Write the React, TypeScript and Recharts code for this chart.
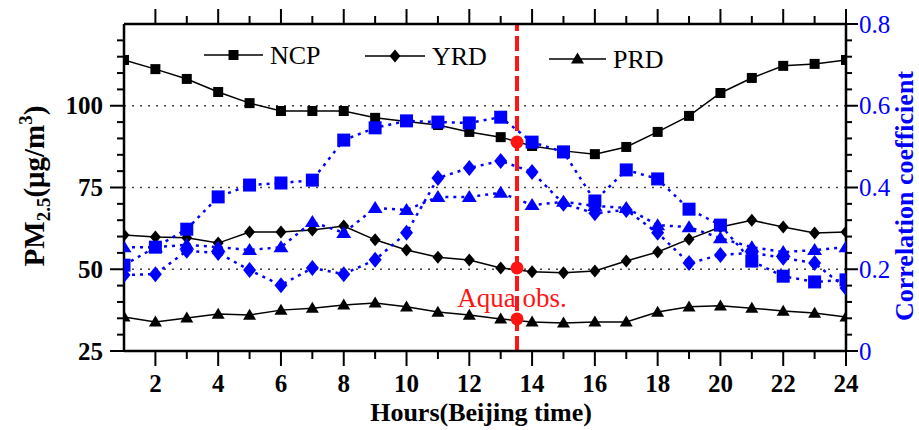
import React from 'react';
import { ComposedChart, Line, XAxis, YAxis, ReferenceLine, ReferenceDot, Legend } from 'recharts';

const hours = [1, 2, 3, 4, 5, 6, 7, 8, 9, 10, 11, 12, 13, 14, 15, 16, 17, 18, 19, 20, 21, 22, 23, 24];
const ncpPM = [114, 111.2, 108.2, 104.2, 100.8, 98.4, 98.4, 98.4, 96.3, 95.2, 94.1, 92, 90.4, 87.7, 86.2, 85.2, 87.4, 92, 96.9, 103.9, 108.5, 112.2, 112.8, 114];
const yrdPM = [60.5, 59.9, 59.6, 58, 61.4, 61.4, 62, 63.2, 59, 55.9, 53.7, 52.8, 50.4, 49.2, 48.9, 49.5, 52.5, 55.3, 59.2, 62.9, 65, 62.9, 61.1, 61.4];
const prdPM = [35.4, 33.9, 35.1, 36.3, 36, 37.5, 38.1, 39.1, 39.7, 38.5, 36.9, 36, 34.8, 33.9, 33.6, 33.9, 33.9, 36.9, 38.5, 38.8, 38.1, 37.2, 36.6, 35.4];
const ncpCorr = [0.21, 0.254, 0.298, 0.377, 0.406, 0.411, 0.418, 0.516, 0.546, 0.563, 0.56, 0.558, 0.572, 0.511, 0.487, 0.367, 0.443, 0.421, 0.347, 0.308, 0.22, 0.183, 0.169, 0.174];
const yrdCorr = [0.186, 0.188, 0.245, 0.24, 0.198, 0.161, 0.203, 0.188, 0.223, 0.289, 0.423, 0.448, 0.465, 0.438, 0.36, 0.337, 0.345, 0.289, 0.215, 0.235, 0.24, 0.228, 0.215, 0.154];
const prdCorr = [0.254, 0.254, 0.26, 0.254, 0.247, 0.254, 0.316, 0.289, 0.35, 0.345, 0.377, 0.377, 0.387, 0.357, 0.365, 0.355, 0.35, 0.308, 0.303, 0.276, 0.254, 0.242, 0.247, 0.254];

const hourLabels = [2, 4, 6, 8, 10, 12, 14, 16, 18, 20, 22, 24];
const pmTicks = [25, 30, 35, 40, 45, 50, 55, 60, 65, 70, 75, 80, 85, 90, 95, 100, 105, 110, 115, 120, 125];
const pmLabels = [25, 50, 75, 100];
const corrTicks = [0, 0.04, 0.08, 0.12, 0.16, 0.2, 0.24, 0.28, 0.32, 0.36, 0.4, 0.44, 0.48, 0.52, 0.56, 0.6, 0.64, 0.68, 0.72, 0.76, 0.8];
const corrLabels = [0, 0.2, 0.4, 0.6, 0.8];
const gridValues = [50, 75, 100];
const aquaHour = 13.52;
const aquaPM = [88.9, 50.4, 34.8];
const aquaText = 'Aqua obs.';
const seriesNames = ['NCP', 'YRD', 'PRD'];

const data = hours.map((h, i) => ({
  hour: h,
  ncp: ncpPM[i],
  yrd: yrdPM[i],
  prd: prdPM[i],
  ncpC: ncpCorr[i],
  yrdC: yrdCorr[i],
  prdC: prdCorr[i],
}));

const FONT = '"Liberation Serif", "Times New Roman", serif';
const BLUE = '#0000ff';
const RED = '#ff1414';

function shapeEl(shape: string, cx: number, cy: number, w: number, h: number, color: string, key: any) {
  if (shape === 'square') {
    return <rect key={key} x={cx - w / 2} y={cy - h / 2} width={w} height={h} fill={color} />;
  }
  if (shape === 'diamond') {
    return (
      <polygon
        key={key}
        points={`${cx},${cy - h / 2} ${cx + w / 2},${cy} ${cx},${cy + h / 2} ${cx - w / 2},${cy}`}
        fill={color}
      />
    );
  }
  return (
    <polygon
      key={key}
      points={`${cx},${cy - h * 0.58} ${cx + w / 2},${cy + h * 0.42} ${cx - w / 2},${cy + h * 0.42}`}
      fill={color}
    />
  );
}

const marker = (shape: string, w: number, h: number, color: string) => (props: any) => {
  const { cx, cy, index } = props;
  if (cx == null || cy == null) return <g key={`m-${index}`} />;
  return shapeEl(shape, cx, cy, w, h, color, `m-${index}`);
};

const BottomTick = (props: any) => {
  const { x, y, payload } = props;
  const v = payload.value;
  const major = hourLabels.includes(v);
  return (
    <g>
      {v !== 1 && <line x1={x} x2={x} y1={y} y2={y + (major ? 15 : 8)} stroke="#000" strokeWidth={2} />}
      {major && (
        <text x={x} y={y + 41} textAnchor="middle" fontFamily={FONT} fontWeight="bold" fontSize={25} fill="#000">
          {v}
        </text>
      )}
    </g>
  );
};

const TopTick = (props: any) => {
  const { x, y, payload } = props;
  const v = payload.value;
  if (v === 1) return <g />;
  const major = hourLabels.includes(v);
  return <line x1={x} x2={x} y1={y} y2={y - (major ? 15 : 8)} stroke="#000" strokeWidth={2} />;
};

const LeftTick = (props: any) => {
  const { x, y, payload } = props;
  const v = payload.value;
  const major = pmLabels.includes(v);
  if (v === 125) return <g />;
  return (
    <g>
      <line x1={x} x2={x - (major ? 14 : 7)} y1={y} y2={y} stroke="#000" strokeWidth={2} />
      {major && (
        <text x={x - 21} y={y + 8.5} textAnchor="end" fontFamily={FONT} fontWeight="bold" fontSize={25} fill="#000">
          {v}
        </text>
      )}
    </g>
  );
};

const RightTick = (props: any) => {
  const { x, y, payload } = props;
  const v = payload.value;
  const major = corrLabels.some((c) => Math.abs(c - v) < 1e-6);
  return (
    <g>
      <line x1={x} x2={x + (major ? 12 : 6)} y1={y} y2={y} stroke="#000" strokeWidth={2} />
      {major && (
        <text x={x + 13} y={y + 8.5} textAnchor="start" fontFamily={FONT} fontSize={25} fill={BLUE}>
          {String(v)}
        </text>
      )}
    </g>
  );
};

const LeftTitle = () => {
  const bx = 44;
  const cy = 186;
  return (
    <text
      x={bx}
      y={cy}
      transform={`rotate(-90, ${bx}, ${cy})`}
      textAnchor="middle"
      fontFamily={FONT}
      fontWeight="bold"
      fontSize={29}
      fill="#000"
    >
      PM
      <tspan fontSize={19} dy={6}>2.5</tspan>
      <tspan dy={-6}>(μg/m</tspan>
      <tspan fontSize={19} dy={-12}>3</tspan>
      <tspan dy={12}>)</tspan>
    </text>
  );
};

const RightTitle = () => {
  const bx = 913;
  const cy = 196;
  return (
    <text
      x={bx}
      y={cy}
      transform={`rotate(-90, ${bx}, ${cy})`}
      textAnchor="middle"
      fontFamily={FONT}
      fontWeight="bold"
      fontSize={26}
      fill={BLUE}
    >
      Correlation coefficient
    </text>
  );
};

const BottomTitle = () => (
  <text x={481} y={421} textAnchor="middle" fontFamily={FONT} fontWeight="bold" fontSize={26} fill="#000">
    Hours(Beijing time)
  </text>
);

const AquaLabel = (props: any) => {
  const vb = props.viewBox || { x: 517, y: 24, width: 0, height: 327 };
  return (
    <text x={vb.x - 5} y={vb.y + vb.height - 44} textAnchor="middle" fontFamily={FONT} fontSize={27} fill={RED}>
      {aquaText}
    </text>
  );
};

const legendLayout = [
  { name: seriesNames[0], shape: 'square', x1: 204, x2: 263, y: 55, w: 10, h: 10 },
  { name: seriesNames[1], shape: 'diamond', x1: 365, x2: 425, y: 56, w: 11, h: 13 },
  { name: seriesNames[2], shape: 'triangle', x1: 549, x2: 606, y: 59, w: 13, h: 11 },
];

const LegendContent = () => (
  <svg width={919} height={90} style={{ position: 'absolute', left: 0, top: 0, overflow: 'visible' }}>
    {legendLayout.map((it, i) => (
      <g key={i}>
        <line x1={it.x1} x2={it.x2} y1={it.y} y2={it.y} stroke="#000" strokeWidth={1.5} />
        {shapeEl(it.shape, (it.x1 + it.x2) / 2, it.y, it.w, it.h, '#000', `l-${i}`)}
        <text x={it.x2 + 7} y={it.y + 8.5} fontFamily={FONT} fontSize={26} fill="#000">
          {it.name}
        </text>
      </g>
    ))}
  </svg>
);

export default function App() {
  return (
    <div style={{ position: 'absolute', left: 0, top: 0, width: 919, height: 430, background: '#fff' }}>
      <ComposedChart width={919} height={430} data={data} margin={{ top: 0, right: 0, bottom: 0, left: 0 }}>
        {gridValues.map((g) => (
          <ReferenceLine
            key={`g-${g}`}
            xAxisId="bottom"
            yAxisId="left"
            y={g}
            stroke="#444"
            strokeWidth={1.5}
            strokeDasharray="2 6"
          />
        ))}
        <XAxis
          xAxisId="bottom"
          dataKey="hour"
          type="number"
          domain={[1, 24]}
          ticks={hours}
          interval={0}
          height={79}
          tickSize={0}
          tickMargin={0}
          tick={BottomTick}
          tickLine={false}
          axisLine={{ stroke: '#000', strokeWidth: 2.5 }}
          label={BottomTitle}
          allowDataOverflow
        />
        <XAxis
          xAxisId="top"
          orientation="top"
          dataKey="hour"
          type="number"
          domain={[1, 24]}
          ticks={hours}
          interval={0}
          height={24}
          tickSize={0}
          tickMargin={0}
          tick={TopTick}
          tickLine={false}
          axisLine={{ stroke: '#000', strokeWidth: 2.5 }}
          allowDataOverflow
        />
        <YAxis
          yAxisId="left"
          type="number"
          domain={[25, 125]}
          ticks={pmTicks}
          interval={0}
          width={124}
          tickSize={0}
          tickMargin={0}
          tick={LeftTick}
          tickLine={false}
          axisLine={{ stroke: '#000', strokeWidth: 2.5 }}
          label={LeftTitle}
          allowDataOverflow
        />
        <YAxis
          yAxisId="right"
          orientation="right"
          type="number"
          domain={[0, 0.8]}
          ticks={corrTicks}
          interval={0}
          width={73}
          tickSize={0}
          tickMargin={0}
          tick={RightTick}
          tickLine={false}
          axisLine={{ stroke: '#000', strokeWidth: 2.5 }}
          label={RightTitle}
          allowDataOverflow
        />
        <Legend
          verticalAlign="middle"
          align="center"
          layout="horizontal"
          content={LegendContent}
          wrapperStyle={{ position: 'absolute', left: 0, top: 0, width: 919, height: 90, pointerEvents: 'none' }}
        />
        <Line xAxisId="bottom" yAxisId="left" dataKey="ncp" name="NCP" stroke="#000" strokeWidth={1.5}
          dot={marker('square', 10, 10, '#000')} activeDot={false} isAnimationActive={false} />
        <Line xAxisId="bottom" yAxisId="left" dataKey="yrd" name="YRD" stroke="#000" strokeWidth={1.5}
          dot={marker('diamond', 11, 13, '#000')} activeDot={false} isAnimationActive={false} />
        <Line xAxisId="bottom" yAxisId="left" dataKey="prd" name="PRD" stroke="#000" strokeWidth={1.5}
          dot={marker('triangle', 13, 11, '#000')} activeDot={false} isAnimationActive={false} />
        <Line xAxisId="bottom" yAxisId="right" dataKey="ncpC" stroke={BLUE} strokeWidth={2.5} strokeDasharray="3 5"
          dot={marker('square', 13, 13, BLUE)} activeDot={false} isAnimationActive={false} legendType="none" />
        <Line xAxisId="bottom" yAxisId="right" dataKey="yrdC" stroke={BLUE} strokeWidth={2.5} strokeDasharray="3 5"
          dot={marker('diamond', 13, 16, BLUE)} activeDot={false} isAnimationActive={false} legendType="none" />
        <Line xAxisId="bottom" yAxisId="right" dataKey="prdC" stroke={BLUE} strokeWidth={2.5} strokeDasharray="3 5"
          dot={marker('triangle', 15, 12, BLUE)} activeDot={false} isAnimationActive={false} legendType="none" />
        <ReferenceLine
          xAxisId="bottom"
          yAxisId="left"
          x={aquaHour}
          stroke={RED}
          strokeWidth={4}
          strokeDasharray="15 5"
          label={AquaLabel}
        />
        {aquaPM.map((v, i) => (
          <ReferenceDot key={`a-${i}`} xAxisId="bottom" yAxisId="left" x={aquaHour} y={v} r={6.5} fill={RED} stroke="none" />
        ))}
      </ComposedChart>
    </div>
  );
}
